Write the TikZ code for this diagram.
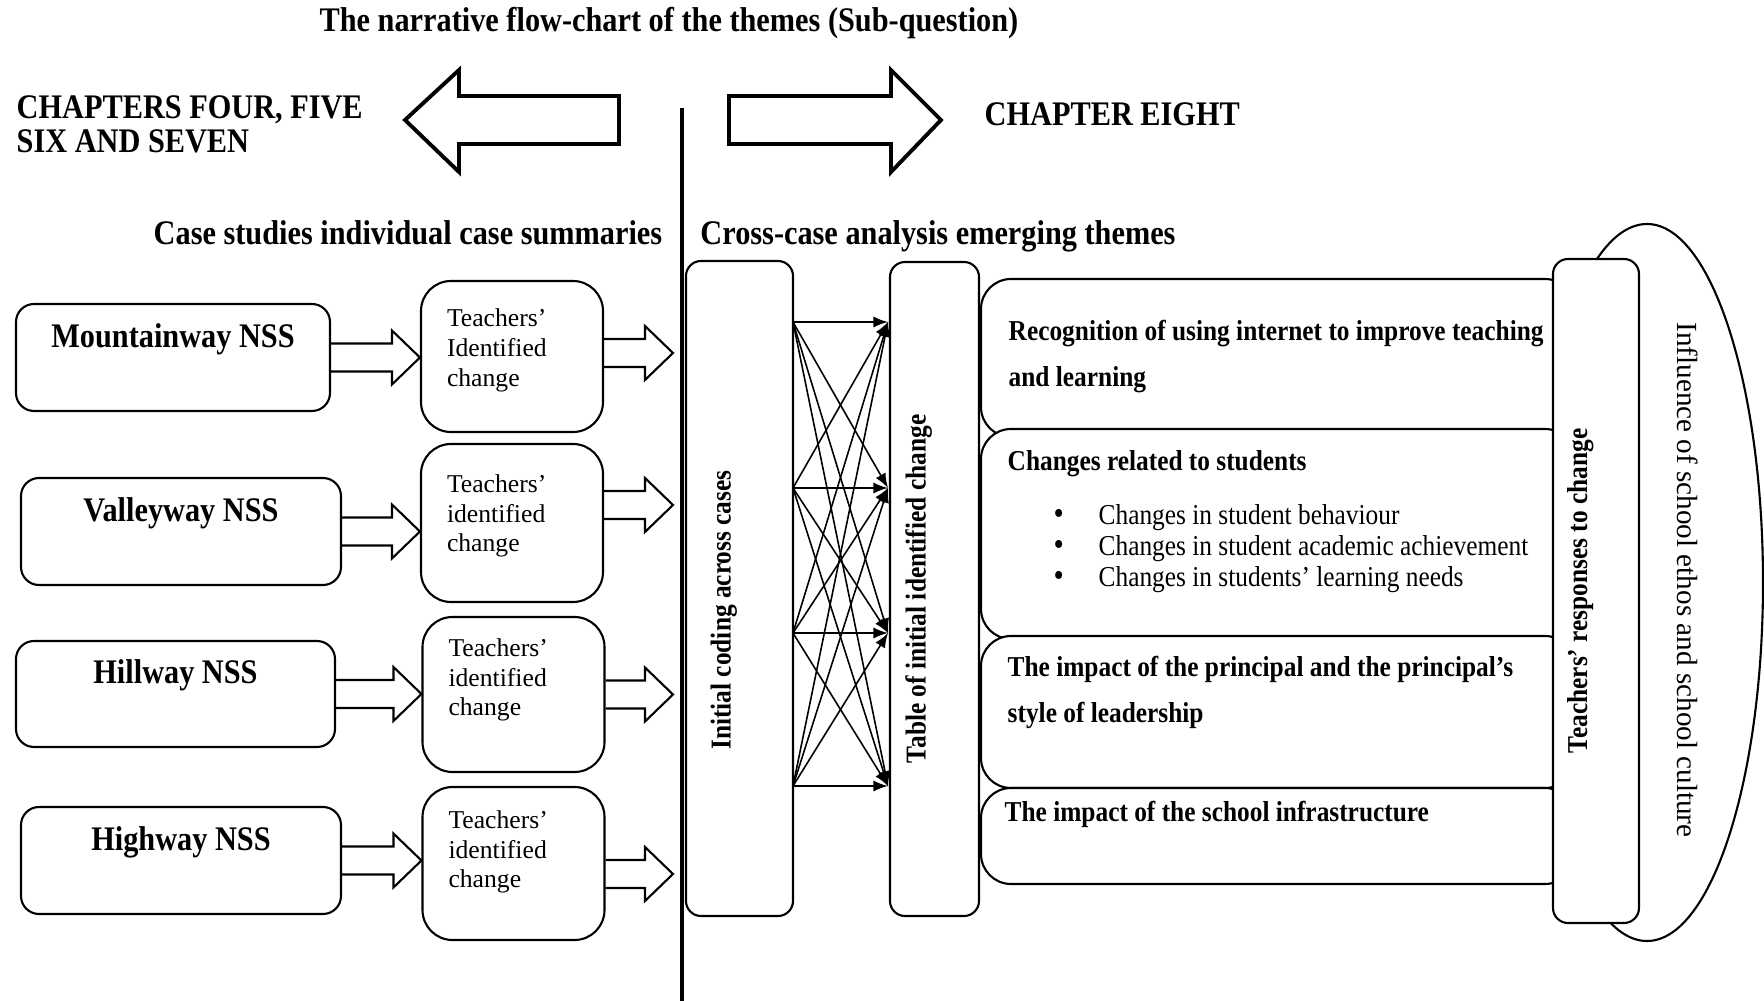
\documentclass[tikz,border=0pt]{standalone}
\usepackage{fontspec}
\setmainfont{Liberation Serif}
\newfontfamily\narrow[FakeStretch=0.88]{Liberation Serif}
\usetikzlibrary{shapes.geometric, arrows, calc}

\newcommand{\hollowarrow}[2]{%
  \draw [hollow] let \p1=(#1), \p2=(#2) in
    (\x1,\y1+1.4mm) -- (\x2-2.8mm,\y1+1.4mm) -- (\x2-2.8mm,\y1+2.7mm) -- (\x2,\y1)
    -- (\x2-2.8mm,\y1-2.7mm) -- (\x2-2.8mm,\y1-1.4mm) -- (\x1,\y1-1.4mm);}
\newcommand{\bul}{\makebox[4.5mm][l]{\fontsize{9.5}{9}\selectfont\textbullet}}

\begin{document}
\begin{tikzpicture}[x=0.1mm, y=-0.1mm]
\tikzstyle{heading}=[inner sep=0, font=\narrow\bfseries\fontsize{9.8}{9.7}\selectfont]
\tikzstyle{bigarrow}=[draw=black, line width=1.1pt, line join=miter]
\tikzstyle{hollow}=[draw=black, line width=0.6pt, line join=miter]
\tikzstyle{divider}=[line width=1.4pt]
\tikzstyle{school}=[rectangle, rounded corners=1.8mm, draw=black, line width=0.6pt, font=\narrow\bfseries\fontsize{9.8}{11}\selectfont, text height=2.3mm, text depth=4.3mm]
\tikzstyle{teacher}=[rectangle, rounded corners=3mm, draw=black, line width=0.6pt, align=left, text width=13mm, inner xsep=2.6mm, text height=2mm, font=\fontsize{7.3}{8.4}\selectfont]
\tikzstyle{tall}=[rectangle, rounded corners=1.5mm, draw=black, line width=0.6pt, rotate=90, font=\narrow\bfseries\fontsize{8.2}{9}\selectfont, text height=2mm, text depth=3.8mm]
\tikzstyle{fan}=[->, >=latex, line width=0.45pt]
\tikzstyle{theme}=[rectangle, rounded corners=3mm, draw=black, fill=white, line width=0.6pt, minimum width=59.4mm, inner sep=0]
\tikzstyle{themetext}=[anchor=west, align=left, inner sep=0, font=\narrow\bfseries\fontsize{8.2}{13.1}\selectfont]
\tikzstyle{listtext}=[anchor=west, align=left, inner sep=0, font=\narrow\fontsize{8.2}{8.8}\selectfont]
\tikzstyle{ellipsebox}=[ellipse, draw=black, line width=0.6pt, minimum width=23.2mm, minimum height=71.7mm, inner sep=0]
\tikzstyle{ethostext}=[rotate=-90, inner sep=0, font=\fontsize{8.3}{9}\selectfont]

\useasboundingbox (0,0) rectangle (1764,1001);

\node (title) [heading, anchor=base] at (669,32) {The narrative flow-chart of the themes (Sub-question)};
\node (earlier) [heading, anchor=west, align=left] at (16,124) {CHAPTERS FOUR, FIVE\\SIX AND SEVEN};
\node (later) [heading, anchor=west] at (984,114) {CHAPTER EIGHT};
\node (caseHead) [heading, anchor=base] at (408,245) {Case studies individual case summaries};
\node (crossHead) [heading, anchor=base] at (938,245) {Cross-case analysis emerging themes};

\draw [bigarrow] (619,96) -- (459,96) -- (459,70) -- (405,120) -- (459,172) -- (459,144) -- (619,144) -- cycle;
\draw [bigarrow] (729,96) -- (891,96) -- (891,70) -- (941,120) -- (891,172) -- (891,144) -- (729,144) -- cycle;

\coordinate (divTop) at (682,108);
\coordinate (divBot) at (682,1001);
\draw [divider] (divTop) -- (divBot);

\node (mountain) [school, minimum width=31.4mm, minimum height=10.7mm] at (173,357.5) {Mountainway NSS};
\node (valley) [school, minimum width=32mm, minimum height=10.7mm] at (181,531.5) {Valleyway NSS};
\node (hill) [school, minimum width=31.9mm, minimum height=10.6mm] at (175.5,694) {Hillway NSS};
\node (high) [school, minimum width=32mm, minimum height=10.7mm] at (181,860.5) {Highway NSS};

\node (teachA) [teacher, minimum height=15.1mm, text depth=7.9mm] at (512,356.5) {Teachers’\\Identified\\change};
\node (teachB) [teacher, minimum height=15.8mm, text depth=8.1mm] at (512,523) {Teachers’\\identified\\change};
\node (teachC) [teacher, minimum height=15.5mm, text depth=9.6mm] at (513.5,694.5) {Teachers’\\identified\\change};
\node (teachD) [teacher, minimum height=15.3mm, text depth=9mm] at (513.5,863.5) {Teachers’\\identified\\change};

\coordinate (wall) at (673,0);
\hollowarrow{mountain.east}{teachA.west}
\hollowarrow{valley.east}{teachB.west}
\hollowarrow{hill.east}{teachC.west}
\hollowarrow{high.east}{teachD.west}
\hollowarrow{[yshift=0.35mm]teachA.east}{wall}
\hollowarrow{[yshift=1.8mm]teachB.east}{wall}
\hollowarrow{teachC.east}{wall}
\hollowarrow{[yshift=-1.05mm]teachD.east}{wall}

\node (initial) [tall, minimum width=65.5mm, minimum height=10.7mm] at (739.5,588.5) {Initial coding across cases\hspace*{4.3mm}};
\node (table) [tall, minimum width=65.4mm, minimum height=8.9mm] at (934.5,589) {Table of initial identified change};

\foreach \i/\y in {1/322,2/488,3/633,4/786} {
  \coordinate (src\i) at (793,\y);
  \coordinate (dst\i) at (888,\y);
}
\foreach \i in {1,...,4}
  \foreach \j in {1,...,4}
    \draw [fan] (src\i) -- (dst\j);

\node (ethos) [ellipsebox] at (1647,582.5) {};
\node (ethosText) [ethostext] at (1688,580) {Influence of school ethos and school culture};

\node (themeA) [theme, minimum height=15.8mm] at (1278,358) {};
\node (themeB) [theme, minimum height=21mm] at (1278,534) {};
\node (themeC) [theme, minimum height=15.2mm] at (1278,712) {};
\node (themeD) [theme, minimum height=9.6mm] at (1278,836) {};

\node (internet) [themetext] at (1008,357) {Recognition of using internet to improve teaching\\and learning};
\node (students) [themetext] at (1007,464) {Changes related to students};
\node (studentList) [listtext] at (1053,549) {\bul Changes in student behaviour\\\bul Changes in student academic achievement\\\bul Changes in students’ learning needs};
\node (principal) [themetext] at (1007,692) {The impact of the principal and the principal’s\\style of leadership};
\node (infra) [themetext] at (1004,814) {The impact of the school infrastructure};

\node (responses) [tall, fill=white, minimum width=66.4mm, minimum height=8.6mm] at (1596,591) {Teachers’ responses to change};

\end{tikzpicture}
\end{document}
